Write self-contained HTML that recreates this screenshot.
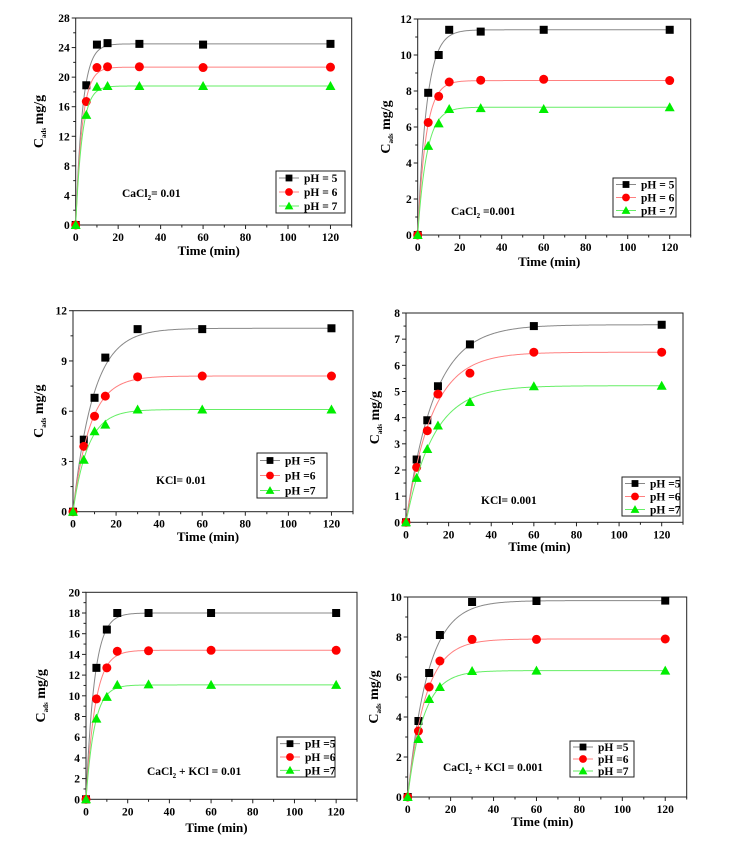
<!DOCTYPE html>
<html><head><meta charset="utf-8">
<style>
html,body{margin:0;padding:0;background:#fff;}
svg{display:block;font-family:"Liberation Serif",serif;font-weight:bold;}
</style></head>
<body>
<svg id="fig" width="746" height="850" viewBox="0 0 746 850" xmlns="http://www.w3.org/2000/svg"></svg>
<script>
// shared x categories (time, min)
const times = [0, 5, 10, 15, 30, 60, 120];
const xTicks = [0, 20, 40, 60, 80, 100, 120];
const seriesNames = ["pH = 5", "pH = 6", "pH = 7"];

// panel 1: CaCl2 = 0.01
const p1pH5 = [0, 18.9, 24.4, 24.6, 24.5, 24.4, 24.5];
const p1pH6 = [0, 16.7, 21.3, 21.4, 21.4, 21.3, 21.35];
const p1pH7 = [0, 14.9, 18.7, 18.8, 18.8, 18.8, 18.8];
const p1yTicks = [0, 4, 8, 12, 16, 20, 24, 28];
// panel 2: CaCl2 = 0.001
const p2pH5 = [0, 7.9, 10.0, 11.4, 11.3, 11.4, 11.4];
const p2pH6 = [0, 6.25, 7.7, 8.5, 8.6, 8.65, 8.58];
const p2pH7 = [0, 4.95, 6.2, 7.0, 7.05, 7.0, 7.1];
const p2yTicks = [0, 2, 4, 6, 8, 10, 12];
// panel 3: KCl = 0.01
const p3pH5 = [0, 4.3, 6.8, 9.2, 10.9, 10.9, 10.95];
const p3pH6 = [0, 3.9, 5.7, 6.9, 8.05, 8.1, 8.1];
const p3pH7 = [0, 3.1, 4.8, 5.2, 6.1, 6.1, 6.1];
const p3yTicks = [0, 3, 6, 9, 12];
// panel 4: KCl = 0.001
const p4pH5 = [0, 2.4, 3.9, 5.2, 6.8, 7.5, 7.55];
const p4pH6 = [0, 2.1, 3.5, 4.9, 5.7, 6.5, 6.5];
const p4pH7 = [0, 1.7, 2.8, 3.7, 4.6, 5.2, 5.22];
const p4yTicks = [0, 1, 2, 3, 4, 5, 6, 7, 8];
// panel 5: CaCl2 + KCl = 0.01
const p5pH5 = [0, 12.7, 16.4, 18.0, 18.0, 18.0, 18.0];
const p5pH6 = [0, 9.7, 12.7, 14.3, 14.35, 14.4, 14.4];
const p5pH7 = [0, 7.8, 9.9, 11.05, 11.1, 11.05, 11.05];
const p5yTicks = [0, 2, 4, 6, 8, 10, 12, 14, 16, 18, 20];
// panel 6: CaCl2 + KCl = 0.001
const p6pH5 = [0, 3.8, 6.2, 8.1, 9.75, 9.8, 9.82];
const p6pH6 = [0, 3.3, 5.5, 6.8, 7.88, 7.88, 7.9];
const p6pH7 = [0, 2.9, 4.9, 5.5, 6.3, 6.32, 6.32];
const p6yTicks = [0, 2, 4, 6, 8, 10];

const panels = [
 {id:"p1",L:75.7,R:351.7,T:18,B:225,ymax:28,yt:p1yTicks,s:[p1pH5,p1pH6,p1pH7],leg:[276,171,69,42],names:["pH = 5","pH = 6","pH = 7"],ann:"CaCl",annSub:"2",annRest:"= 0.01",ax:122,ay:197,ylx:43,tty:255},
 {id:"p2",L:417.7,R:690.7,T:19,B:235,ymax:12,yt:p2yTicks,s:[p2pH5,p2pH6,p2pH7],leg:[613,178,63,39],names:["pH = 5","pH = 6","pH = 7"],ann:"CaCl",annSub:"2",annRest:" =0.001",ax:451,ay:215,ylx:390,tty:266},
 {id:"p3",L:73,R:353,T:310.7,B:511.7,ymax:12,yt:p3yTicks,s:[p3pH5,p3pH6,p3pH7],leg:[257,453,70,45],names:["pH =5","pH =6","pH =7"],ann:"KCl= 0.01",annSub:"",annRest:"",ax:156,ay:484,ylx:43,tty:541},
 {id:"p4",L:406,R:683,T:313,B:522.3,ymax:8,yt:p4yTicks,s:[p4pH5,p4pH6,p4pH7],leg:[622,477,58,39],names:["pH =5","pH =6","pH =7"],ann:"KCl= 0.001",annSub:"",annRest:"",ax:481,ay:504,ylx:379,tty:551},
 {id:"p5",L:86,R:357,T:592.3,B:799.3,ymax:20,yt:p5yTicks,s:[p5pH5,p5pH6,p5pH7],leg:[277,737,58,40],names:["pH =5","pH =6","pH =7"],ann:"CaCl",annSub:"2",annRest:" + KCl = 0.01",ax:147,ay:775,ylx:45,tty:832},
 {id:"p6",L:407.7,R:686.7,T:597,B:797,ymax:10,yt:p6yTicks,s:[p6pH5,p6pH6,p6pH7],leg:[570,741,64,36],names:["pH =5","pH =6","pH =7"],ann:"CaCl",annSub:"2",annRest:" + KCl = 0.001",ax:443,ay:771,ylx:378,tty:826}
];
const colors=["#000000","#ff0000","#00ee00"];
const lineColors=["#888888","#ff8080","#66ee66"];
const NS="http://www.w3.org/2000/svg";
const svg=document.getElementById("fig");
function mk(tag,attrs,parent){const e=document.createElementNS(NS,tag);for(const k in attrs)e.setAttribute(k,attrs[k]);(parent||svg).appendChild(e);return e;}

function fitK(q){ // pseudo-first-order fit, qe=last value
  const qe=q[q.length-1];let best=0.1,err=1e9;
  for(let k=0.01;k<1.5;k+=0.002){let e=0;for(let i=0;i<times.length;i++){const d=qe*(1-Math.exp(-k*times[i]))-q[i];e+=d*d;}if(e<err){err=e;best=k;}}
  return best;
}
function marker(g,i,x,y,size){
  let m;
  if(i===0){m=mk("rect",{x:x-size,y:y-size,width:2*size,height:2*size,fill:colors[0]},g);}
  else if(i===1){m=mk("circle",{cx:x,cy:y,r:size+0.5,fill:colors[1]},g);}
  else{m=mk("polygon",{points:`${x},${y-size-1} ${x-size-1},${y+size} ${x+size+1},${y+size}`,fill:colors[2]},g);}
  return m;
}

panels.forEach(p=>{
  const g=mk("g",{});
  
  
  const xs=v=>p.L+(v/130)*(p.R-p.L);
  const ys=v=>p.B-(v/p.ymax)*(p.B-p.T);
  const frame=mk("rect",{x:p.L,y:p.T,width:p.R-p.L,height:p.B-p.T,fill:"none",stroke:"#222","stroke-width":1},g);
  
  
  for(let v=0;v<=130;v+=10){
    const major=xTicks.includes(v);
    mk("line",{x1:xs(v),x2:xs(v),y1:p.B,y2:p.B+(major?4:2.5),stroke:"#222"},g);
  }
  xTicks.forEach(v=>{
    const t=mk("text",{x:xs(v),y:p.B+16,"text-anchor":"middle","font-size":11.5},g);t.textContent=v;
    
    
  });
  const step=p.yt[1]-p.yt[0];
  for(let v=0;v<=p.ymax+1e-9;v+=step/2){
    const major=Math.abs(v/step-Math.round(v/step))<1e-6;
    mk("line",{x1:p.L,x2:p.L-(major?4:2.5),y1:ys(v),y2:ys(v),stroke:"#222"},g);
  }
  p.yt.forEach(v=>{
    const t=mk("text",{x:p.L-6,y:ys(v)+4,"text-anchor":"end","font-size":11.5},g);t.textContent=v;
    
    
  });
  const xt=mk("text",{x:(p.L+p.R)/2-5,y:p.tty,"text-anchor":"middle","font-size":13},g);xt.textContent="Time (min)";
  
  
  const yt=mk("text",{transform:`translate(${p.ylx},${(p.T+p.B)/2}) rotate(-90)`,"text-anchor":"middle","font-size":14},g);
  
  
  const c1=mk("tspan",{},yt);c1.textContent="C";
  const c2=mk("tspan",{"font-size":7,dy:3},yt);c2.textContent="ads";
  const c3=mk("tspan",{dy:-3},yt);c3.textContent=" mg/g";
  p.s.forEach((q,i)=>{
    const sg=mk("g",{},g);
    
    
    const k=fitK(q),qe=q[q.length-1];
    let d="";
    for(let t=0;t<=120;t+=0.5){d+=(t===0?"M":"L")+xs(t).toFixed(2)+","+ys(qe*(1-Math.exp(-k*t))).toFixed(2);}
    const path=mk("path",{d:d,fill:"none",stroke:lineColors[i],"stroke-width":1},sg);
    
    
    q.forEach((v,j)=>{
      const m=marker(sg,i,xs(times[j]),ys(v),4);
      
      
    });
  });
  const [lx,ly,lw,lh]=p.leg;
  const lg=mk("g",{},g);
  
  
  mk("rect",{x:lx,y:ly,width:lw,height:lh,fill:"#fff",stroke:"#222","stroke-width":1},lg);
  for(let i=0;i<3;i++){
    const yy=ly+lh/6+i*lh/3;
    const e=mk("g",{},lg);
    
    
    mk("line",{x1:lx+3,x2:lx+23,y1:yy,y2:yy,stroke:lineColors[i]},e);
    marker(e,i,lx+13,yy,3.4);
    const t=mk("text",{x:lx+28,y:yy+4,"font-size":11.5},e);t.textContent=p.names[i];
  }
  const at=mk("text",{x:p.ax,y:p.ay,"font-size":11.5},g);
  
  
  const a1=mk("tspan",{},at);a1.textContent=p.ann;
  if(p.annSub){const a2=mk("tspan",{"font-size":7,dy:3},at);a2.textContent=p.annSub;const a3=mk("tspan",{dy:-3},at);a3.textContent=p.annRest;}
});
</script>
</body></html>
